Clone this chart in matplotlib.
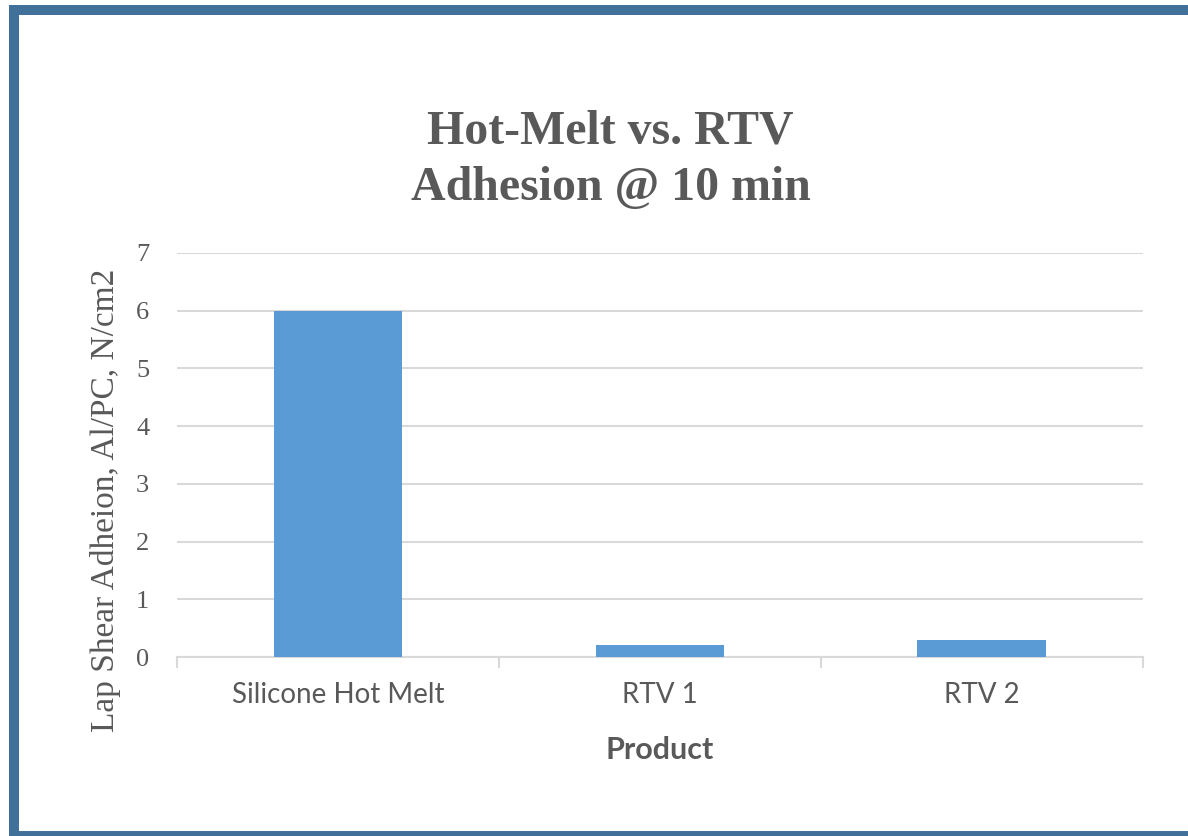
import matplotlib
matplotlib.use('Agg')
import matplotlib.pyplot as plt
from matplotlib.lines import Line2D
import numpy as np

products = ['Silicone Hot Melt', 'RTV 1', 'RTV 2']
adhesion = [6.0, 0.2, 0.3]
y_ticks = [0, 1, 2, 3, 4, 5, 6, 7]

text_gray = '#595959'
grid_gray = '#D9D9D9'

fig = plt.figure(figsize=(11.88, 8.36), dpi=100)
ax = fig.add_axes([0.149, 0.2141, 0.813, 0.4833])

x = np.arange(len(products))
ax.bar(x, adhesion, width=0.4, color='#5B9BD5', zorder=3)

ax.set_xlim(-0.5, len(products) - 0.5)
ax.set_ylim(0, 7)
ax.set_yticks(y_ticks)
ax.set_yticklabels([str(v) for v in y_ticks], fontfamily='Liberation Serif',
                   fontsize=19, color=text_gray)
ax.tick_params(axis='y', length=0, pad=20)

# category labels sit between the boundary ticks
ax.set_xticks(x)
ax.set_xticklabels(products, fontfamily='Lato', fontsize=20, color=text_gray)
ax.tick_params(axis='x', length=0, pad=18)
ax.set_xticks(np.arange(len(products) + 1) - 0.5, minor=True)
ax.tick_params(axis='x', which='minor', length=8, width=1.5, color=grid_gray)

ax.grid(axis='y', color=grid_gray, linewidth=1.5, zorder=0)
for side in ['top', 'right', 'left']:
    ax.spines[side].set_visible(False)
ax.spines['bottom'].set_color(grid_gray)
ax.spines['bottom'].set_linewidth(1.5)

ax.set_xlabel('Product', fontfamily='Lato', fontweight='bold', fontsize=22,
              color=text_gray, labelpad=20)

fig.text(0.0884, 0.401, 'Lap Shear Adheion, Al/PC, N/cm2', rotation=90,
         ha='center', va='center', fontfamily='Liberation Serif', fontsize=24,
         color=text_gray)

fig.text(0.514, 0.843, 'Hot-Melt vs. RTV', ha='center', va='center',
         fontfamily='Liberation Serif', fontweight='bold', fontsize=34.5,
         color=text_gray)
fig.text(0.514, 0.775, 'Adhesion @ 10 min', ha='center', va='center',
         fontfamily='Liberation Serif', fontweight='bold', fontsize=34.5,
         color=text_gray)

# blue frame around the chart area
frame = '#41709B'
fig.add_artist(Line2D([14 / 1188, 14 / 1188], [0, 1 - 5 / 836], transform=fig.transFigure,
                      color=frame, linewidth=7.2, solid_capstyle='butt'))
fig.add_artist(Line2D([9 / 1188, 1], [1 - 10 / 836, 1 - 10 / 836], transform=fig.transFigure,
                      color=frame, linewidth=7.2, solid_capstyle='butt'))
fig.add_artist(Line2D([9 / 1188, 1], [2 / 836, 2 / 836], transform=fig.transFigure,
                      color=frame, linewidth=5, solid_capstyle='butt'))

fig.savefig('out.png', dpi=100)
